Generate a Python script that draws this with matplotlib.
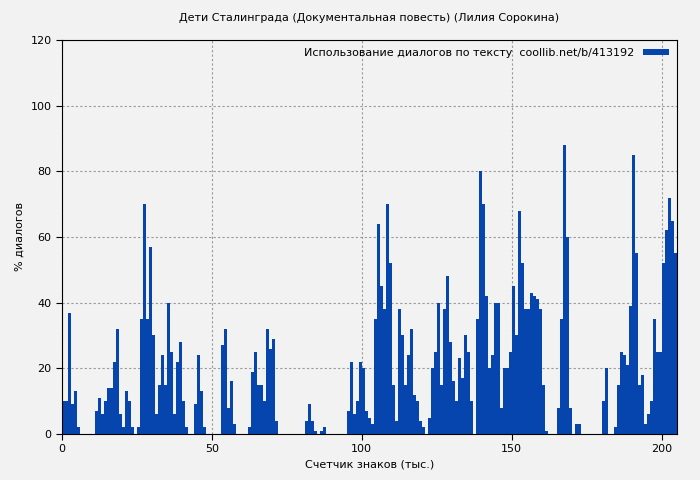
import numpy as np
import matplotlib
matplotlib.use('Agg')
import matplotlib.pyplot as plt

# dialog share per 1k characters
dialog_pct = [
    10, 10, 37, 9, 13, 2, 0, 0, 0, 0,          # 0-9
    0, 7, 11, 6, 10, 14, 14, 22, 32, 6,        # 10-19
    2, 13, 10, 2, 0, 2, 35, 70, 35, 57,        # 20-29
    30, 6, 15, 24, 15, 40, 25, 6, 22, 28,      # 30-39
    10, 2, 0, 0, 9, 24, 13, 2, 0, 0,           # 40-49
    0, 0, 0, 27, 32, 8, 16, 3, 0, 0,           # 50-59
    0, 0, 2, 19, 25, 15, 15, 10, 32, 26,       # 60-69
    29, 4, 0, 0, 0, 0, 0, 0, 0, 0,             # 70-79
    0, 4, 9, 4, 1, 0, 1, 2, 0, 0,              # 80-89
    0, 0, 0, 0, 0, 7, 22, 6, 10, 22,           # 90-99
    20, 7, 5, 3, 35, 64, 45, 38, 70, 52,       # 100-109
    15, 4, 38, 30, 15, 24, 32, 12, 10, 4,      # 110-119
    2, 0, 5, 20, 25, 40, 15, 38, 48, 28,       # 120-129
    16, 10, 23, 17, 30, 25, 10, 0, 35, 80,     # 130-139
    70, 42, 20, 24, 40, 40, 8, 20, 20, 25,     # 140-149
    45, 30, 68, 52, 38, 38, 43, 42, 41, 38,    # 150-159
    15, 1, 0, 0, 0, 8, 35, 88, 60, 8,          # 160-169
    0, 3, 3, 0, 0, 0, 0, 0, 0, 0,              # 170-179
    10, 20, 0, 0, 2, 15, 25, 24, 21, 39,       # 180-189
    85, 55, 15, 18, 3, 6, 10, 35, 25, 25,      # 190-199
    52, 62, 72, 65, 55,                        # 200-204
]
chars_k = np.arange(len(dialog_pct))

bg = '#f2f2f2'
bar_color = '#0645ad'

fig = plt.figure(figsize=(7, 4.8), dpi=100, facecolor=bg)
ax = fig.add_axes([0.0886, 0.0958, 0.878, 0.821], facecolor=bg)

ax.bar(chars_k, dialog_pct, width=1.0, align='edge', color=bar_color,
       linewidth=0, label='Использование диалогов по тексту  coollib.net/b/413192')

ax.set_xlim(0, 205)
ax.set_ylim(0, 120)
ax.set_xticks([0, 50, 100, 150, 200])
ax.set_yticks(range(0, 121, 20))
ax.grid(True, linestyle=(0, (2, 2)), color='#999999', linewidth=0.8)
ax.set_axisbelow(True)
ax.tick_params(labelsize=8, direction='out', length=4)
for s in ax.spines.values():
    s.set_color('black')

ax.set_title('Дети Сталинграда (Документальная повесть) (Лилия Сорокина)', fontsize=8, pad=14)
ax.set_xlabel('Счетчик знаков (тыс.)', fontsize=8)
ax.set_ylabel('% диалогов', fontsize=8)

leg = ax.legend(loc='upper right', fontsize=8, frameon=False, markerfirst=False,
                handlelength=2.3, handleheight=0.5, borderaxespad=0.3)

fig.savefig('out.png', dpi=100, facecolor=bg)
